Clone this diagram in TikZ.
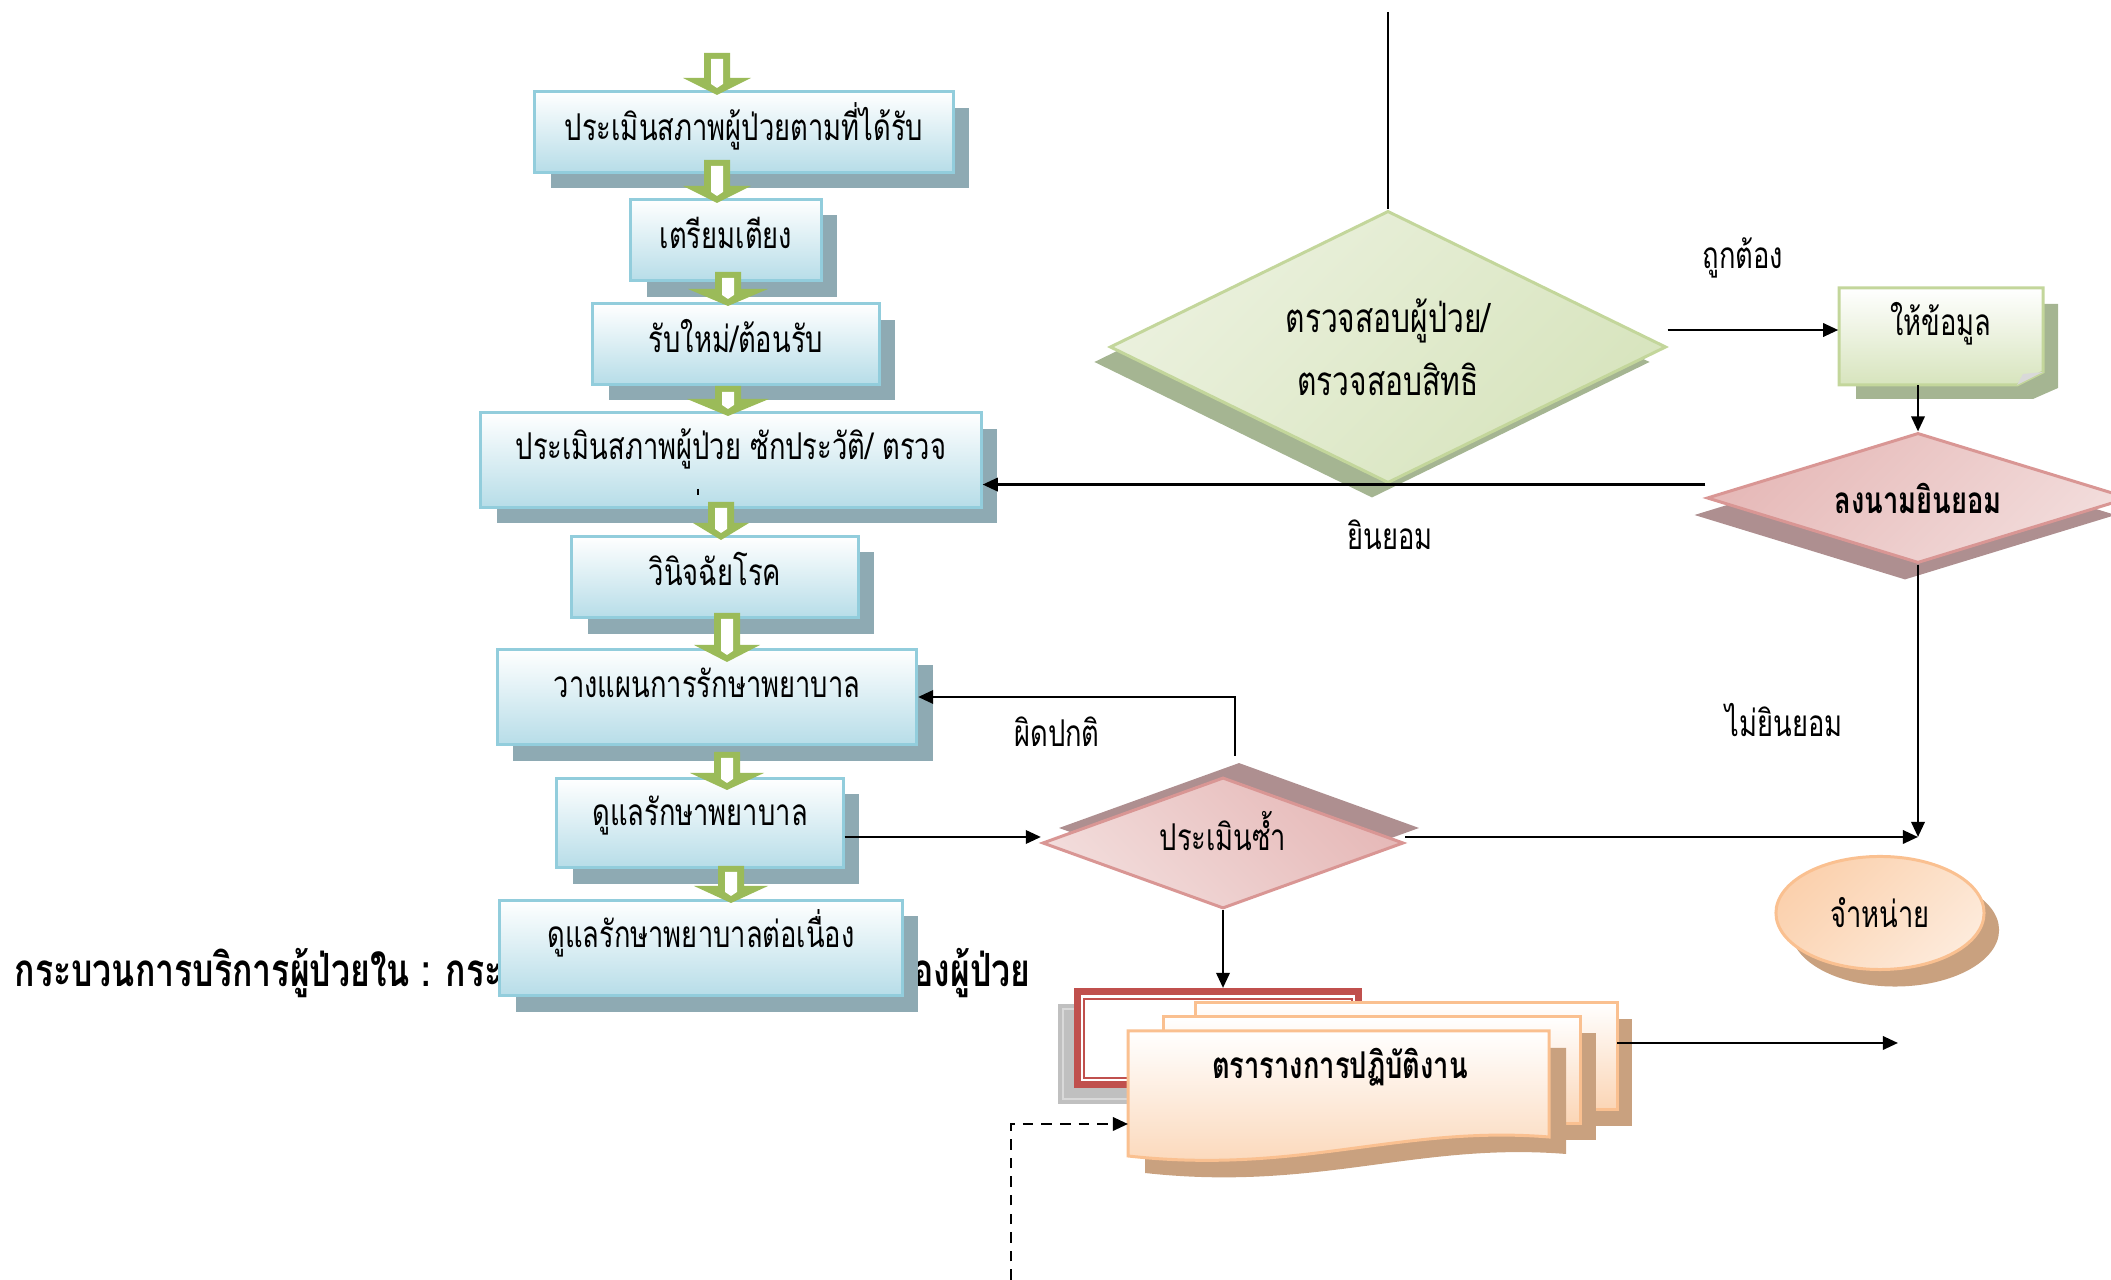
\documentclass[tikz,border=0pt]{standalone}
\usepackage{fontspec}
\newfontfamily\thaifont[Script=Thai,FakeStretch=0.74]{Loma}
\usetikzlibrary{shapes.geometric,shadows,arrows.meta,calc}

\definecolor{boxline}{HTML}{92CDDC}
\definecolor{boxfill}{HTML}{B7DDE8}
\definecolor{boxshade}{HTML}{8EAAB3}
\definecolor{arrgreen}{HTML}{9BBB59}
\definecolor{grnline}{HTML}{C3D69B}
\definecolor{grnlight}{HTML}{EBF1DE}
\definecolor{grndark}{HTML}{D7E4BD}
\definecolor{grnshade}{HTML}{A5B592}
\definecolor{pinkline}{HTML}{D99694}
\definecolor{pinklight}{HTML}{F2DCDB}
\definecolor{pinkdark}{HTML}{E6B9B8}
\definecolor{pinkshade}{HTML}{AE8F90}
\definecolor{orgline}{HTML}{FAC090}
\definecolor{orglight}{HTML}{FDEADA}
\definecolor{orgdark}{HTML}{FBD5B5}
\definecolor{orgshade}{HTML}{C9A17F}
\definecolor{framered}{HTML}{C0504D}
\definecolor{framegray}{HTML}{C0C0C0}

\begin{document}
\begin{tikzpicture}[x=0.01cm,y=-0.01cm,
	font=\thaifont\fontsize{10.5}{12.5}\selectfont,
	stepbox/.style={draw=boxline,line width=0.85pt,top color=white,bottom color=boxfill,
		inner sep=2pt,text height=6pt,text depth=1pt,
		drop shadow={shadow xshift=0.16cm,shadow yshift=-0.16cm,fill=boxshade,opacity=1}},
	conn/.style={line width=0.7pt,-{Triangle[length=4.3pt,width=3.8pt]}},
	plain/.style={line width=0.7pt}]
	\useasboundingbox (0,0) rectangle (2111,1280);

	%TITLE (partly behind the last box)
	\node[anchor=base west,inner sep=0pt,font=\thaifont\bfseries\fontsize{13}{15}\selectfont] (ttla) at (14,987) {กระบวนการบริการผู้ป่วยใน : กระบวนการ};
	\node[anchor=base east,inner sep=0pt,font=\thaifont\bfseries\fontsize{13}{15}\selectfont] (ttlb) at (1031,987) {ของผู้ป่วย};

	%MAIN COLUMN
	\node[stepbox,minimum width=4.18cm,minimum height=0.80cm] (s1) at (744,132) {ประเมินสภาพผู้ป่วยตามที่ได้รับ};
	\node[stepbox,minimum width=1.90cm,minimum height=0.81cm] (s2) at (726,240) {เตรียมเตียง};
	\node[stepbox,minimum width=2.86cm,minimum height=0.80cm] (s3) at (736,344) {รับใหม่/ต้อนรับ};
	\node[stepbox,minimum width=5.00cm,minimum height=0.94cm,text depth=6pt] (s4) at (731,460) {ประเมินสภาพผู้ป่วย ซักประวัติ/ ตรวจ};
	\node[stepbox,minimum width=2.86cm,minimum height=0.81cm] (s5) at (715,577) {วินิจฉัยโรค};
	\node[stepbox,minimum width=4.19cm,minimum height=0.95cm,text depth=5.6pt] (s6) at (707,697) {วางแผนการรักษาพยาบาล};
	\node[stepbox,minimum width=2.86cm,minimum height=0.89cm,text depth=4.4pt] (s7) at (700,823) {ดูแลรักษาพยาบาล};
	\node[stepbox,minimum width=4.02cm,minimum height=0.95cm,text depth=6.2pt] (s8) at (701,948) {ดูแลรักษาพยาบาลต่อเนื่อง};
	\draw[line width=0.5pt] (698,489)--(698,495); % clipped second line of s4

	%GREEN BLOCK ARROWS  x / top / tip / half head
	\foreach \x/\a/\b/\w in {717/53/95/34,717/160/203/34,728/272/306/40,728/386/416/41,
		721/502/540/28,727/613/662/33,727/752/790/37,731/866/903/37}{
		\fill[arrgreen] (\x-13,\a)--(\x+13,\a)--(\x+13,\b-17)--(\x+\w,\b-17)--(\x,\b)--(\x-\w,\b-17)--(\x-13,\b-17)--cycle;
		\fill[white] (\x-6,\a+6)--(\x+6,\a+6)--(\x+6,\b-11)--(\x,\b-7)--(\x-6,\b-11)--cycle;
	}

	%CHECK AND CONSENT
	\coordinate (top) at (1388,12);
	\node[diamond,aspect=2.04,inner sep=0pt,minimum width=5.56cm,minimum height=2.72cm,align=center,
		draw=grnline,line width=0.85pt,top color=grnlight,bottom color=grndark,shading angle=45,
		drop shadow={shadow xshift=-0.16cm,shadow yshift=-0.15cm,fill=grnshade,opacity=1},
		font=\thaifont\fontsize{11.5}{13}\selectfont]
		(chk) at (1388,347) {ตรวจสอบผู้ป่วย/\\[5pt]ตรวจสอบสิทธิ};

	\fill[grnshade] (1856,304)--(2058,304)--(2058,388)--(2033,399)--(1856,399)--cycle;
	\shadedraw[top color=white,bottom color=grndark,draw=grnline,line width=0.85pt]
		(1839,288)--(2043,288)--(2043,372)--(2017,385)--(1839,385)--cycle;
	\fill[black!15] (2017,385)--(2043,372)--(2023,374)--cycle;
	\node[minimum width=2.04cm,minimum height=0.97cm,text height=6pt,text depth=6pt] (info) at (1941,336) {ให้ข้อมูล};
	\coordinate (inarrow) at ([yshift=1.7pt]info.west);

	\node[diamond,aspect=3.25,inner sep=0pt,minimum width=4.22cm,minimum height=1.30cm,
		draw=pinkline,line width=0.85pt,top color=pinkdark,bottom color=pinklight,shading angle=45,
		drop shadow={shadow xshift=-0.13cm,shadow yshift=-0.17cm,fill=pinkshade,opacity=1},
		font=\thaifont\bfseries\fontsize{10.5}{12.5}\selectfont]
		(consent) at (1918,498) {ลงนามยินยอม};

	%REVISIT AND DISCHARGE
	\node[diamond,aspect=2.76,inner sep=0pt,minimum width=3.61cm,minimum height=1.31cm,
		text height=6pt,text depth=2pt,
		draw=pinkline,line width=0.85pt,top color=pinkdark,bottom color=pinklight,shading angle=-45,
		drop shadow={shadow xshift=0.16cm,shadow yshift=0.15cm,fill=pinkshade,opacity=1}]
		(revisit) at (1223,843) {ประเมินซ้ำ};
	\node[ellipse,minimum width=2.08cm,minimum height=1.13cm,
		draw=orgline,line width=0.85pt,top color=orgdark!80!orgline,bottom color=orglight,shading angle=45,
		drop shadow={shadow xshift=0.15cm,shadow yshift=-0.17cm,fill=orgshade,opacity=1}]
		(dis) at (1880,913) {จำหน่าย};
	\coordinate (hit) at (1918,837);

	%SCHEDULE STACK
	\fill[framegray] (1058,1004) rectangle (1346,1104);
	\draw[white!85!black,line width=0.4pt] (1063,1009) rectangle (1340,1099);
	\node[draw=framered,fill=white,line width=2pt,minimum width=2.81cm,minimum height=0.93cm] (frame) at (1218,1038) {};
	\draw[framered,line width=0.6pt] (1084,999) rectangle (1352,1078);

	\fill[orgshade] (1211,1019) rectangle (1632,1126);
	\shadedraw[top color=white,bottom color=orgdark,draw=orgline,line width=0.85pt] (1195,1003) rectangle (1617,1110);
	\fill[orgshade] (1179,1033) rectangle (1596,1140);
	\shadedraw[top color=white,bottom color=orgdark,draw=orgline,line width=0.85pt] (1163,1017) rectangle (1580,1124);
	\fill[orgshade] (1145,1048)--(1566,1048)--(1566,1154) .. controls (1417,1142) and (1317,1192) .. (1145,1173)--cycle;
	\shadedraw[top color=white,bottom color=orgdark,draw=orgline,line width=0.85pt]
		(1128,1031)--(1549,1031)--(1549,1137) .. controls (1400,1125) and (1300,1175) .. (1128,1156)--cycle;
	\node[font=\thaifont\bfseries\fontsize{10.5}{12.5}\selectfont] (sched) at (1340,1067) {ตรารางการปฏิบัติงาน};
	\coordinate (stackout) at (1617,1043);
	\coordinate (outend) at (1898,1043);
	\coordinate (pageleft) at (1128,1124);
	\coordinate (dashstart) at (1011,1280);

	%CONNECTORS
	\draw[plain] (top)--(chk.north);
	\draw[conn] (chk.east |- inarrow)--(inarrow);
	\draw[conn] (info.south -| consent.north)--(consent.north);
	\draw[conn] (consent.west |- chk.south)--(s4.east |- chk.south);
	\draw[conn] (consent.south)--(hit);
	\draw[conn] ($(revisit.north)+(12,-20)$) |- (s6.east);
	\draw[conn] (s7.east |- hit)--(revisit.west |- hit);
	\draw[conn] (revisit.east |- hit)--(hit);
	\draw[conn] (revisit.south)--(revisit.south |- frame.north);
	\draw[conn] (stackout)--(outend);
	\draw[conn,dashed,dash pattern=on 3pt off 2.3pt] (dashstart) |- (pageleft);

	%BRANCH LABELS
	\node (lok) at (1743,258) {ถูกต้อง};
	\node (lyes) at (1390,535) {ยินยอม};
	\node (lbad) at (1057,732) {ผิดปกติ};
	\node (lno) at (1784,720) {ไม่ยินยอม};
\end{tikzpicture}
\end{document}
